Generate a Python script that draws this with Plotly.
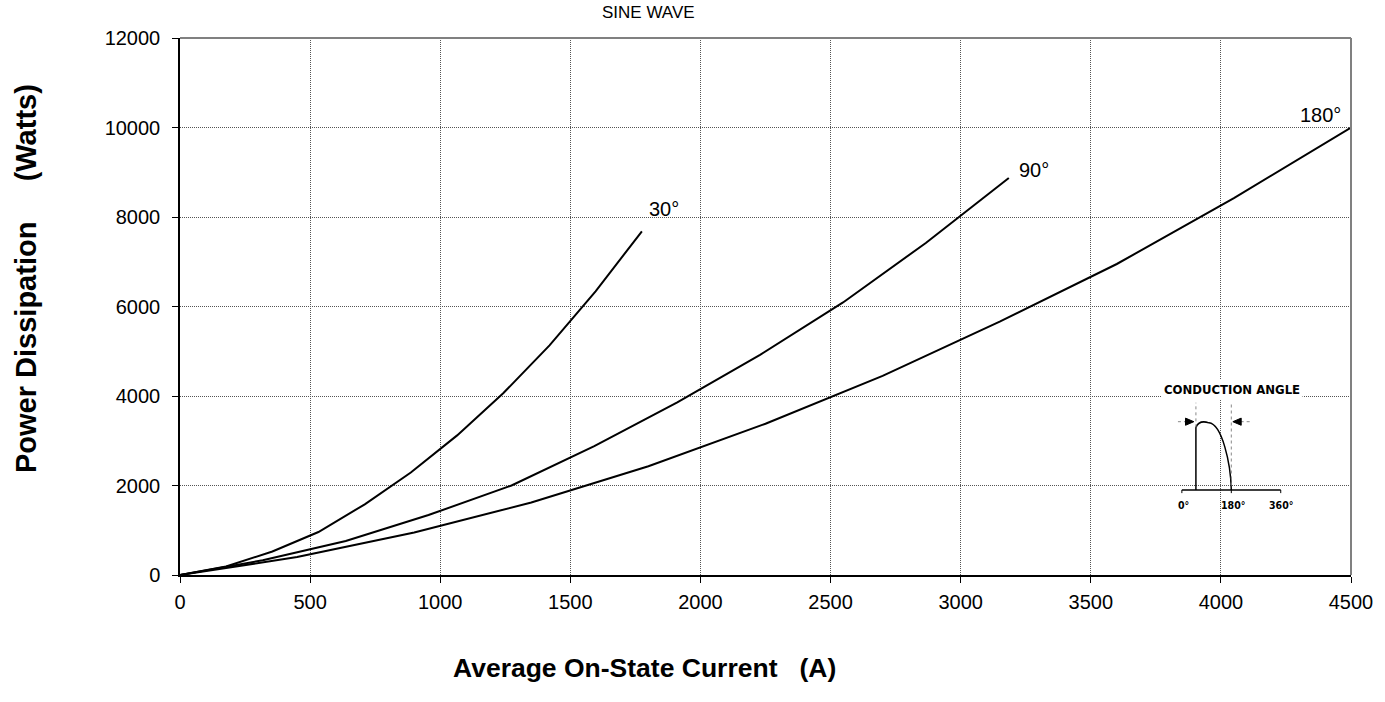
import plotly.graph_objects as go

# ---- data ----
i_30 = [0, 177, 355, 532, 710, 887, 1065, 1242, 1420, 1597, 1775]
p_30 = [0, 190, 525, 960, 1580, 2290, 3120, 4060, 5130, 6340, 7680]
i_90 = [0, 318, 637, 955, 1274, 1592, 1911, 2229, 2548, 2866, 3185]
p_90 = [0, 330, 760, 1340, 2000, 2880, 3860, 4920, 6090, 7420, 8870]
i_180 = [0, 450, 900, 1350, 1800, 2250, 2700, 3150, 3600, 4050, 4500]
p_180 = [0, 400, 950, 1620, 2430, 3380, 4450, 5660, 6950, 8420, 10000]
curve_labels = ["30°", "90°", "180°"]
x_ticks = [0, 500, 1000, 1500, 2000, 2500, 3000, 3500, 4000, 4500]
y_ticks = [0, 2000, 4000, 6000, 8000, 10000, 12000]

FONT = "Arial, Liberation Sans, sans-serif"
NARROW = "Liberation Sans Narrow, Arial Narrow, DejaVu Sans Condensed, sans-serif"
NB = "\u00a0"

fig = go.Figure()
for xs, ys in [(i_30, p_30), (i_90, p_90), (i_180, p_180)]:
    fig.add_trace(go.Scatter(x=xs, y=ys, mode="lines",
                             line=dict(color="black", width=2), showlegend=False,
                             hoverinfo="skip"))

# curve labels
label_pos = [(1795, 8180, "left"), (3217, 9060, "left"), (4468, 10270, "right")]
for (lx, ly, anc), t in zip(label_pos, curve_labels):
    fig.add_annotation(x=lx, y=ly, text=t, showarrow=False, xanchor=anc,
                       yanchor="middle", font=dict(family=FONT, size=20, color="black"))

# ---- conduction-angle inset (drawn in data units) ----
base_p = 1900
x0d, x180d, x360d = 3850, 4040, 4230
x_start = 3904
peak_p = 3400
fig.add_shape(type="line", x0=x0d, x1=x360d, y0=base_p, y1=base_p,
              line=dict(color="black", width=1.5))
for xt in (x0d, x180d, x360d):
    fig.add_shape(type="line", x0=xt, x1=xt, y0=base_p, y1=base_p - 70,
                  line=dict(color="black", width=1))
path = (f"M {x_start},{base_p} L {x_start},{base_p + 1400} "
        f"C {x_start + 12},{peak_p + 60} {x_start + 40},{peak_p + 20} {x_start + 50},{peak_p} "
        f"C {x_start + 100},{peak_p - 30} {x180d - 2},{base_p + 600} {x180d},{base_p}")
fig.add_shape(type="path", path=path, line=dict(color="black", width=1.5))
fig.add_shape(type="line", x0=x_start, x1=x_start, y0=3300, y1=3850,
              line=dict(color="#888", width=1, dash="dot"))
fig.add_shape(type="line", x0=x180d, x1=x180d, y0=2000, y1=3870,
              line=dict(color="#888", width=1, dash="dot"))
arrow_p = 3426
fig.add_shape(type="line", x0=3835, x1=3870, y0=arrow_p, y1=arrow_p,
              line=dict(color="#888", width=1, dash="dot"))
fig.add_shape(type="line", x0=4076, x1=4112, y0=arrow_p, y1=arrow_p,
              line=dict(color="#888", width=1, dash="dot"))
fig.add_shape(type="path",
              path=f"M 3864,{arrow_p + 80} L 3896,{arrow_p} L 3864,{arrow_p - 80} Z",
              fillcolor="black", line=dict(color="black", width=1))
fig.add_shape(type="path",
              path=f"M 4078,{arrow_p + 80} L 4046,{arrow_p} L 4078,{arrow_p - 80} Z",
              fillcolor="black", line=dict(color="black", width=1))
fig.add_annotation(x=4043, y=4150, text="<b>CONDUCTION ANGLE</b>", showarrow=False,
                   bgcolor="white", borderpad=2,
                   font=dict(family=NARROW, size=13, color="black"))
for xt, t in [(x0d + 5, "0°"), (x180d + 8, "180°"), (x360d, "360°")]:
    fig.add_annotation(x=xt, y=1560, text=f"<b>{t}</b>", showarrow=False,
                       font=dict(family=NARROW, size=10.5, color="black"))

# frame top / right
fig.add_shape(type="line", xref="paper", yref="paper", x0=0, x1=1, y0=1, y1=1,
              line=dict(color="#808080", width=2))
fig.add_shape(type="line", xref="paper", yref="paper", x0=1, x1=1, y0=0, y1=1,
              line=dict(color="#808080", width=2))

# titles
fig.add_annotation(xref="paper", yref="paper", x=0.3997, y=1.0466, text="SINE WAVE",
                   xanchor="center", yanchor="middle",
                   showarrow=False, font=dict(family=FONT, size=17, color="black"))
fig.add_annotation(xref="paper", yref="paper", x=0.397, y=-0.1732,
                   xanchor="center", yanchor="middle",
                   text=f"<b>Average On-State Current{NB*3}(A)</b>",
                   showarrow=False, font=dict(family=FONT, size=26.5, color="black"))
fig.add_annotation(xref="paper", yref="paper", x=-0.1315, y=0.5512, textangle=-90,
                   xanchor="center", yanchor="middle",
                   text=f"<b>Power Dissipation{NB*5}(Watts)</b>",
                   showarrow=False, font=dict(family=FONT, size=29, color="black"))

axis_common = dict(showgrid=True, gridcolor="#555555", griddash="1px,1px", gridwidth=1,
                   showline=True, linecolor="black", linewidth=1.5, ticks="outside",
                   ticklen=6, tickcolor="black", zeroline=False,
                   tickfont=dict(family=FONT, size=20, color="black"))
fig.update_xaxes(range=[0, 4500], tickvals=x_ticks, ticktext=[str(v) for v in x_ticks],
                 ticklabelstandoff=2, **axis_common)
fig.update_yaxes(range=[0, 12000], tickvals=y_ticks, ticktext=[str(v) for v in y_ticks],
                 ticklabelstandoff=8, **axis_common)
fig.update_layout(width=1385, height=702, margin=dict(l=180, r=34, t=38, b=127),
                  plot_bgcolor="white", paper_bgcolor="white")
fig.write_html("out.html", config={"displayModeBar": False},
               post_script="document.body.style.margin='0px';")
